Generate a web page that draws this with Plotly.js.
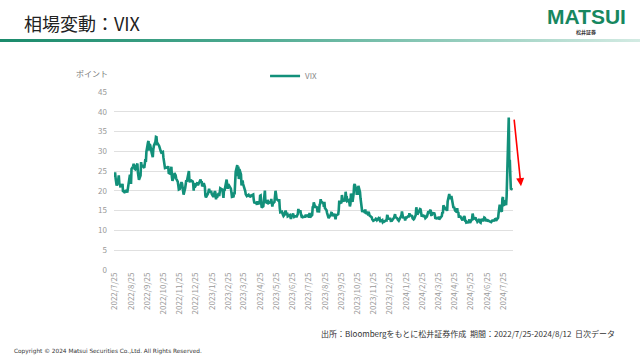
<!DOCTYPE html>
<html><head><meta charset="utf-8">
<script src="https://cdn.plot.ly/plotly-3.0.1.min.js"></script>
<style>
html,body{margin:0;padding:0;background:#fff;}
#wrap{position:relative;width:640px;height:360px;}
#chart{position:absolute;left:0;top:0;width:640px;height:360px;}
#bar{position:absolute;left:0;top:39px;width:640px;height:3px;background:linear-gradient(to right,#1a8a6b 0%,#4fab92 40%,#d3ebe3 100%);}
</style></head>
<body><div id="wrap"><div id="chart"></div><div id="bar"></div></div>
<script>
const dates = [
"2022-07-25","2022-07-26","2022-07-27","2022-07-28","2022-07-29",
"2022-08-01","2022-08-02","2022-08-03","2022-08-04","2022-08-05","2022-08-08","2022-08-09","2022-08-10","2022-08-11","2022-08-12","2022-08-15","2022-08-16","2022-08-17","2022-08-18","2022-08-19","2022-08-22","2022-08-23","2022-08-24","2022-08-25","2022-08-26","2022-08-29","2022-08-30","2022-08-31",
"2022-09-01","2022-09-02","2022-09-06","2022-09-07","2022-09-08","2022-09-09","2022-09-12","2022-09-13","2022-09-14","2022-09-15","2022-09-16","2022-09-19","2022-09-20","2022-09-21","2022-09-22","2022-09-23","2022-09-26","2022-09-27","2022-09-28","2022-09-29","2022-09-30",
"2022-10-03","2022-10-04","2022-10-05","2022-10-06","2022-10-07","2022-10-10","2022-10-11","2022-10-12","2022-10-13","2022-10-14","2022-10-17","2022-10-18","2022-10-19","2022-10-20","2022-10-21","2022-10-24","2022-10-25","2022-10-26","2022-10-27","2022-10-28","2022-10-31",
"2022-11-01","2022-11-02","2022-11-03","2022-11-04","2022-11-07","2022-11-08","2022-11-09","2022-11-10","2022-11-11","2022-11-14","2022-11-15","2022-11-16","2022-11-17","2022-11-18","2022-11-21","2022-11-22","2022-11-23","2022-11-25","2022-11-28","2022-11-29","2022-11-30",
"2022-12-01","2022-12-02","2022-12-05","2022-12-06","2022-12-07","2022-12-08","2022-12-09","2022-12-12","2022-12-13","2022-12-14","2022-12-15","2022-12-16","2022-12-19","2022-12-20","2022-12-21","2022-12-22","2022-12-23","2022-12-27","2022-12-28","2022-12-29","2022-12-30",
"2023-01-03","2023-01-04","2023-01-05","2023-01-06","2023-01-09","2023-01-10","2023-01-11","2023-01-12","2023-01-13","2023-01-17","2023-01-18","2023-01-19","2023-01-20","2023-01-23","2023-01-24","2023-01-25","2023-01-26","2023-01-27","2023-01-30","2023-01-31",
"2023-02-01","2023-02-02","2023-02-03","2023-02-06","2023-02-07","2023-02-08","2023-02-09","2023-02-10","2023-02-13","2023-02-14","2023-02-15","2023-02-16","2023-02-17","2023-02-21","2023-02-22","2023-02-23","2023-02-24","2023-02-27","2023-02-28",
"2023-03-01","2023-03-02","2023-03-03","2023-03-06","2023-03-07","2023-03-08","2023-03-09","2023-03-10","2023-03-13","2023-03-14","2023-03-15","2023-03-16","2023-03-17","2023-03-20","2023-03-21","2023-03-22","2023-03-23","2023-03-24","2023-03-27","2023-03-28","2023-03-29","2023-03-30","2023-03-31",
"2023-04-03","2023-04-04","2023-04-05","2023-04-06","2023-04-10","2023-04-11","2023-04-12","2023-04-13","2023-04-14","2023-04-17","2023-04-18","2023-04-19","2023-04-20","2023-04-21","2023-04-24","2023-04-25","2023-04-26","2023-04-27","2023-04-28",
"2023-05-01","2023-05-02","2023-05-03","2023-05-04","2023-05-05","2023-05-08","2023-05-09","2023-05-10","2023-05-11","2023-05-12","2023-05-15","2023-05-16","2023-05-17","2023-05-18","2023-05-19","2023-05-22","2023-05-23","2023-05-24","2023-05-25","2023-05-26","2023-05-30","2023-05-31",
"2023-06-01","2023-06-02","2023-06-05","2023-06-06","2023-06-07","2023-06-08","2023-06-09","2023-06-12","2023-06-13","2023-06-14","2023-06-15","2023-06-16","2023-06-20","2023-06-21","2023-06-22","2023-06-23","2023-06-26","2023-06-27","2023-06-28","2023-06-29","2023-06-30",
"2023-07-03","2023-07-05","2023-07-06","2023-07-07","2023-07-10","2023-07-11","2023-07-12","2023-07-13","2023-07-14","2023-07-17","2023-07-18","2023-07-19","2023-07-20","2023-07-21","2023-07-24","2023-07-25","2023-07-26","2023-07-27","2023-07-28","2023-07-31",
"2023-08-01","2023-08-02","2023-08-03","2023-08-04","2023-08-07","2023-08-08","2023-08-09","2023-08-10","2023-08-11","2023-08-14","2023-08-15","2023-08-16","2023-08-17","2023-08-18","2023-08-21","2023-08-22","2023-08-23","2023-08-24","2023-08-25","2023-08-28","2023-08-29","2023-08-30","2023-08-31",
"2023-09-01","2023-09-05","2023-09-06","2023-09-07","2023-09-08","2023-09-11","2023-09-12","2023-09-13","2023-09-14","2023-09-15","2023-09-18","2023-09-19","2023-09-20","2023-09-21","2023-09-22","2023-09-25","2023-09-26","2023-09-27","2023-09-28","2023-09-29",
"2023-10-02","2023-10-03","2023-10-04","2023-10-05","2023-10-06","2023-10-09","2023-10-10","2023-10-11","2023-10-12","2023-10-13","2023-10-16","2023-10-17","2023-10-18","2023-10-19","2023-10-20","2023-10-23","2023-10-24","2023-10-25","2023-10-26","2023-10-27","2023-10-30","2023-10-31",
"2023-11-01","2023-11-02","2023-11-03","2023-11-06","2023-11-07","2023-11-08","2023-11-09","2023-11-10","2023-11-13","2023-11-14","2023-11-15","2023-11-16","2023-11-17","2023-11-20","2023-11-21","2023-11-22","2023-11-24","2023-11-27","2023-11-28","2023-11-29","2023-11-30",
"2023-12-01","2023-12-04","2023-12-05","2023-12-06","2023-12-07","2023-12-08","2023-12-11","2023-12-12","2023-12-13","2023-12-14","2023-12-15","2023-12-18","2023-12-19","2023-12-20","2023-12-21","2023-12-22","2023-12-26","2023-12-27","2023-12-28","2023-12-29",
"2024-01-02","2024-01-03","2024-01-04","2024-01-05","2024-01-08","2024-01-09","2024-01-10","2024-01-11","2024-01-12","2024-01-16","2024-01-17","2024-01-18","2024-01-19","2024-01-22","2024-01-23","2024-01-24","2024-01-25","2024-01-26","2024-01-29","2024-01-30","2024-01-31",
"2024-02-01","2024-02-02","2024-02-05","2024-02-06","2024-02-07","2024-02-08","2024-02-09","2024-02-12","2024-02-13","2024-02-14","2024-02-15","2024-02-16","2024-02-20","2024-02-21","2024-02-22","2024-02-23","2024-02-26","2024-02-27","2024-02-28","2024-02-29",
"2024-03-01","2024-03-04","2024-03-05","2024-03-06","2024-03-07","2024-03-08","2024-03-11","2024-03-12","2024-03-13","2024-03-14","2024-03-15","2024-03-18","2024-03-19","2024-03-20","2024-03-21","2024-03-22","2024-03-25","2024-03-26","2024-03-27","2024-03-28",
"2024-04-01","2024-04-02","2024-04-03","2024-04-04","2024-04-05","2024-04-08","2024-04-09","2024-04-10","2024-04-11","2024-04-12","2024-04-15","2024-04-16","2024-04-17","2024-04-18","2024-04-19","2024-04-22","2024-04-23","2024-04-24","2024-04-25","2024-04-26","2024-04-29","2024-04-30",
"2024-05-01","2024-05-02","2024-05-03","2024-05-06","2024-05-07","2024-05-08","2024-05-09","2024-05-10","2024-05-13","2024-05-14","2024-05-15","2024-05-16","2024-05-17","2024-05-20","2024-05-21","2024-05-22","2024-05-23","2024-05-24","2024-05-28","2024-05-29","2024-05-30","2024-05-31",
"2024-06-03","2024-06-04","2024-06-05","2024-06-06","2024-06-07","2024-06-10","2024-06-11","2024-06-12","2024-06-13","2024-06-14","2024-06-17","2024-06-18","2024-06-20","2024-06-21","2024-06-24","2024-06-25","2024-06-26","2024-06-27","2024-06-28",
"2024-07-01","2024-07-02","2024-07-03","2024-07-05","2024-07-08","2024-07-09","2024-07-10","2024-07-11","2024-07-12","2024-07-15","2024-07-16","2024-07-17","2024-07-18","2024-07-19","2024-07-22","2024-07-23","2024-07-24","2024-07-25","2024-07-26","2024-07-29","2024-07-30","2024-07-31",
"2024-08-01","2024-08-02","2024-08-05","2024-08-06","2024-08-07","2024-08-08","2024-08-09","2024-08-12"
];
const vix = [
23.36,24.69,23.24,22.33,21.33,
22.84,23.93,21.95,21.44,21.15,21.29,21.77,19.74,20.20,19.53,19.95,19.69,19.90,19.56,20.60,23.80,24.11,22.82,21.78,25.56,26.21,26.83,25.87,
25.56,25.47,26.91,24.64,23.61,22.79,23.87,27.27,26.16,26.27,26.30,25.81,27.16,27.99,27.35,29.92,32.26,32.60,30.18,31.84,31.62,
29.59,28.55,28.55,30.52,31.36,32.45,33.63,33.57,31.94,32.02,31.37,30.50,30.76,29.98,29.69,29.85,28.46,27.28,27.39,25.75,25.88,
25.81,25.86,26.27,24.55,24.35,25.54,26.09,23.53,22.52,23.73,24.54,24.11,23.93,23.12,22.36,21.39,20.35,20.50,22.21,21.89,20.58,
19.84,19.06,20.75,22.01,22.68,22.29,22.83,25.00,22.55,22.17,22.83,22.62,22.42,21.97,20.07,21.97,20.87,21.65,22.14,21.44,21.67,
22.90,22.01,22.46,21.13,21.97,21.43,21.09,18.83,18.35,19.36,20.34,20.52,19.85,19.81,19.20,19.08,18.73,18.51,19.94,19.40,
17.87,18.73,18.33,19.43,18.66,19.63,20.63,20.53,20.34,18.91,18.23,20.17,20.02,22.87,21.14,20.51,21.67,20.95,20.70,
20.58,19.59,18.49,18.60,19.59,19.11,22.61,24.80,26.52,23.73,26.14,22.99,25.51,24.12,21.38,22.26,22.61,21.74,20.60,19.97,19.12,19.02,18.70,
19.00,18.58,19.08,18.40,18.97,18.97,19.09,17.80,17.07,16.95,17.00,16.46,17.38,16.77,16.89,18.76,18.84,17.03,15.78,
16.08,17.78,18.34,20.09,17.19,16.98,17.71,16.94,16.93,17.03,17.12,17.99,16.87,16.05,16.81,17.21,18.53,20.03,19.14,17.95,17.46,17.94,
15.65,14.60,14.73,13.96,13.94,13.65,13.83,15.01,14.61,13.88,14.50,13.54,13.88,13.20,12.91,13.44,14.25,13.74,13.43,13.54,13.59,
13.57,14.18,15.44,14.83,14.84,14.04,13.54,13.61,13.34,13.48,13.30,13.76,13.99,13.60,13.91,13.86,13.19,14.41,13.33,13.63,
13.93,15.88,15.92,17.10,15.77,15.99,15.96,15.85,14.84,14.82,16.46,16.78,17.89,17.30,17.00,16.97,15.98,17.20,15.68,15.08,14.45,13.88,13.57,
13.09,14.02,14.45,14.40,13.84,13.80,14.23,13.48,12.82,13.79,14.00,14.11,15.14,17.54,17.20,16.90,18.94,18.22,17.34,17.52,
17.61,19.78,18.58,18.49,17.45,17.70,17.03,16.09,16.69,19.32,17.21,17.88,19.22,21.40,21.71,20.37,18.97,20.19,18.97,21.27,19.75,18.14,
16.87,15.66,14.91,14.89,14.81,14.45,15.29,14.17,14.76,14.16,14.18,14.32,13.80,13.41,13.35,12.85,12.46,12.69,12.69,12.98,12.92,
12.63,13.08,12.85,12.97,12.35,12.35,12.63,12.07,12.19,12.48,12.28,12.56,12.53,13.67,13.65,13.03,12.99,12.43,12.47,12.45,
13.20,14.04,14.13,13.35,13.08,12.76,12.69,12.44,12.70,13.84,14.79,14.13,13.30,13.19,12.55,13.14,13.45,13.26,13.60,13.31,14.35,
13.88,13.85,13.67,13.06,12.83,12.79,12.93,13.93,15.85,14.38,14.01,14.24,15.42,15.34,14.54,13.75,13.74,13.43,13.84,13.40,
13.11,13.49,14.46,14.50,14.44,14.74,15.23,13.88,13.75,14.40,14.41,14.33,13.82,12.92,13.06,13.06,13.19,13.24,12.78,13.01,
13.65,14.61,14.33,16.35,16.03,15.19,15.22,15.80,14.91,17.31,19.23,18.40,18.21,18.00,18.71,16.94,15.69,15.97,15.37,15.03,14.67,15.65,
14.39,14.68,13.49,13.49,13.23,13.00,12.69,12.55,13.60,13.42,12.45,12.42,11.99,12.15,11.86,12.29,12.77,11.93,12.92,14.28,13.49,12.92,
13.11,13.06,12.63,12.58,12.22,12.74,12.85,12.04,11.94,12.66,12.75,12.30,13.28,13.20,12.33,12.84,12.55,12.24,12.44,
12.22,12.03,12.09,12.48,12.37,12.51,12.85,12.91,12.46,13.12,13.19,14.48,15.93,16.52,14.91,14.72,18.04,18.46,16.39,16.60,17.69,16.36,
18.59,23.39,38.57,27.71,27.85,23.79,20.37,20.71
];
const tickDates = ["2022-07-25","2022-08-25","2022-09-25","2022-10-25","2022-11-25","2022-12-25","2023-01-25","2023-02-25","2023-03-25","2023-04-25","2023-05-25","2023-06-25","2023-07-25","2023-08-25","2023-09-25","2023-10-25","2023-11-25","2023-12-25","2024-01-25","2024-02-25","2024-03-25","2024-04-25","2024-05-25","2024-06-25","2024-07-25"];
const tickText = tickDates.map(d => { const p = d.split("-"); return p[0] + "/" + (+p[1]) + "/" + (+p[2]); });
const yTicks = [0,5,10,15,20,25,30,35,40,45];

const JP = '"Noto Sans CJK JP", "Noto Sans", sans-serif';
const PW = 399, PH = 178, ML = 114, MT = 92;
const px = x => (x - ML) / PW;          // page pixel -> paper x
const py = y => (360 - 90 - y) / PH;    // page pixel -> paper y

const trace = {
  x: dates, y: vix, type: 'scatter', mode: 'lines', name: 'VIX',
  line: {color: '#12907a', width: 2.6}
};
const layout = {
  width: 640, height: 360,
  margin: {l: ML, r: 640 - ML - PW, t: MT, b: 90},
  paper_bgcolor: '#fff', plot_bgcolor: '#fff',
  font: {family: JP, color: '#888', size: 8},
  showlegend: true,
  legend: {orientation: 'h', x: 0.45, xanchor: 'center', y: 1.09, yanchor: 'middle', itemwidth: 30,
           font: {size: 8, color: '#888', family: JP}},
  xaxis: {
    type: 'date', range: ['2022-07-24', '2024-08-13'],
    tickmode: 'array', tickvals: tickDates, ticktext: tickText, tickangle: -90,
    tickfont: {size: 8, color: '#999', family: JP},
    showgrid: false, zeroline: false, showline: false, ticks: ''
  },
  yaxis: {
    range: [0, 45], tickmode: 'array', tickvals: yTicks,
    tickfont: {size: 8, color: '#999', family: JP},
    gridcolor: '#e0e0e0', gridwidth: 1, zeroline: false, showline: false, ticks: '', ticklabelstandoff: 6
  },
  annotations: [
    {xref: 'paper', yref: 'paper', x: px(92), y: py(73), xanchor: 'center', yanchor: 'middle', showarrow: false,
     text: 'ポイント', font: {size: 8, color: '#777', family: JP}},
    {xref: 'paper', yref: 'y', x: px(521), y: 21.2, showarrow: true,
     ax: -7, ay: -68, arrowcolor: '#ff0000', arrowwidth: 1.6, arrowhead: 2, arrowsize: 1, text: ''},
    {xref: 'paper', yref: 'paper', x: px(22), y: py(23), xanchor: 'left', yanchor: 'middle', showarrow: false,
     text: '相場変動：VIX', font: {size: 18, color: '#222', family: JP}},
    {xref: 'paper', yref: 'paper', x: px(586), y: py(16), xanchor: 'center', yanchor: 'middle', showarrow: false,
     text: '<b>MATSUI</b>', font: {size: 21, color: '#17875f', family: '"Liberation Sans Narrow", "Liberation Sans", sans-serif'}},
    {xref: 'paper', yref: 'paper', x: px(586), y: py(32), xanchor: 'center', yanchor: 'middle', showarrow: false,
     text: '<b>松井証券</b>', font: {size: 5, color: '#333', family: JP}},
    {xref: 'paper', yref: 'paper', x: px(617), y: py(333), xanchor: 'right', yanchor: 'middle', showarrow: false,
     text: '出所：Bloombergをもとに松井証券作成  期間：2022/7/25-2024/8/12  日次データ', font: {size: 8, color: '#333', family: JP}},
    {xref: 'paper', yref: 'paper', x: px(12), y: py(351), xanchor: 'left', yanchor: 'middle', showarrow: false,
     text: 'Copyright © 2024 Matsui Securities Co.,Ltd. All Rights Reserved.', font: {size: 5.8, color: '#333', family: '"DejaVu Sans", sans-serif'}}
  ]
};
Plotly.newPlot('chart', [trace], layout, {staticPlot: true, displayModeBar: false});
</script></body></html>
